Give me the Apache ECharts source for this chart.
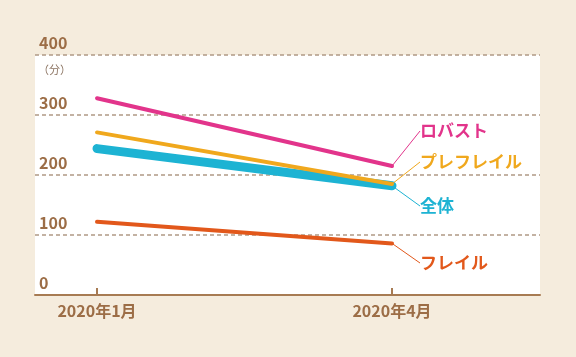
<!DOCTYPE html>
<html><head><meta charset="utf-8">
<script src="https://cdn.jsdelivr.net/npm/echarts@6/dist/echarts.min.js"></script>
<style>html,body{margin:0;padding:0;background:#f5ecdd;}#c{width:576px;height:357px;}</style>
</head><body><div id="c"></div>
<script>
const categories = ['2020年1月', '2020年4月'];
const seriesNames = ['全体', 'フレイル', 'ロバスト', 'プレフレイル'];
const zentai = [244, 182];
const frail = [122, 86];
const robust = [328, 215];
const prefrail = [271, 185];
const yTicks = [0, 100, 200, 300, 400];

const colors = {'全体':'#1db3d3','フレイル':'#e2581b','ロバスト':'#e2348b','プレフレイル':'#f0a81d'};
const widths = {'全体':9,'フレイル':4,'ロバスト':4,'プレフレイル':4};
const labelY = {'全体':206,'フレイル':263,'ロバスト':131,'プレフレイル':162};
const values = {'全体':zentai,'フレイル':frail,'ロバスト':robust,'プレフレイル':prefrail};
const brown = '#9c6d46';
const numFont = "'Noto Sans CJK JP', sans-serif";

const chart = echarts.init(document.getElementById('c'));
chart.setOption({
  backgroundColor: '#f5ecdd',
  animation: false,
  grid: {left: 35, right: 36, top: 55, bottom: 62, show: true, backgroundColor: '#ffffff', borderWidth: 0},
  xAxis: {
    type: 'value', min: -0.2102, max: 1.5017,
    axisLine: {show: true, onZero: false, lineStyle: {color: '#a77b53', width: 2}},
    axisTick: {show: true, inside: true, length: 7, customValues: [0, 1], lineStyle: {color: '#a77b53', width: 2}},
    axisLabel: {show: true, customValues: [0, 1], margin: 8, color: brown, fontSize: 16, fontWeight: 'bold', fontFamily: numFont,
      formatter: v => categories[Math.round(v)] || ''},
    splitLine: {show: false}
  },
  yAxis: {
    type: 'value', min: yTicks[0], max: yTicks[yTicks.length - 1], interval: 100,
    axisLine: {show: false}, axisTick: {show: false},
    axisLabel: {inside: true, margin: 4, color: brown, fontSize: 16, fontWeight: 'bold', fontFamily: numFont,
      verticalAlign: 'bottom', padding: [0, 0, 4, 0]},
    splitLine: {show: true, lineStyle: {color: '#b09985', width: 1.5, type: [4, 3]}}
  },
  graphic: [{type: 'text', left: 38, top: 64, style: {text: '（分）', fill: '#8c7462', font: "11px 'Noto Sans CJK JP'"}}],
  series: seriesNames.map(name => ({
    type: 'line', name: name,
    data: values[name].map((v, i) => i === values[name].length - 1
      ? {value: [i, v], label: {show: true}} : [i, v]),
    symbol: 'circle', symbolSize: 1, showSymbol: true,
    itemStyle: {color: 'rgba(0,0,0,0)'},
    lineStyle: {color: colors[name], width: widths[name], cap: 'round'},
    label: {show: false, formatter: () => name, color: colors[name], fontSize: 17, fontWeight: 'bold',
      fontFamily: "'Noto Sans CJK JP', sans-serif", padding: [0, 0, 0, 5]},
    labelLine: {show: true, lineStyle: {color: colors[name], width: 1}},
    labelLayout: () => ({x: 415, y: labelY[name], align: 'left', verticalAlign: 'middle'}),
    z: name === 'プレフレイル' ? 4 : 3
  }))
});
</script></body></html>
